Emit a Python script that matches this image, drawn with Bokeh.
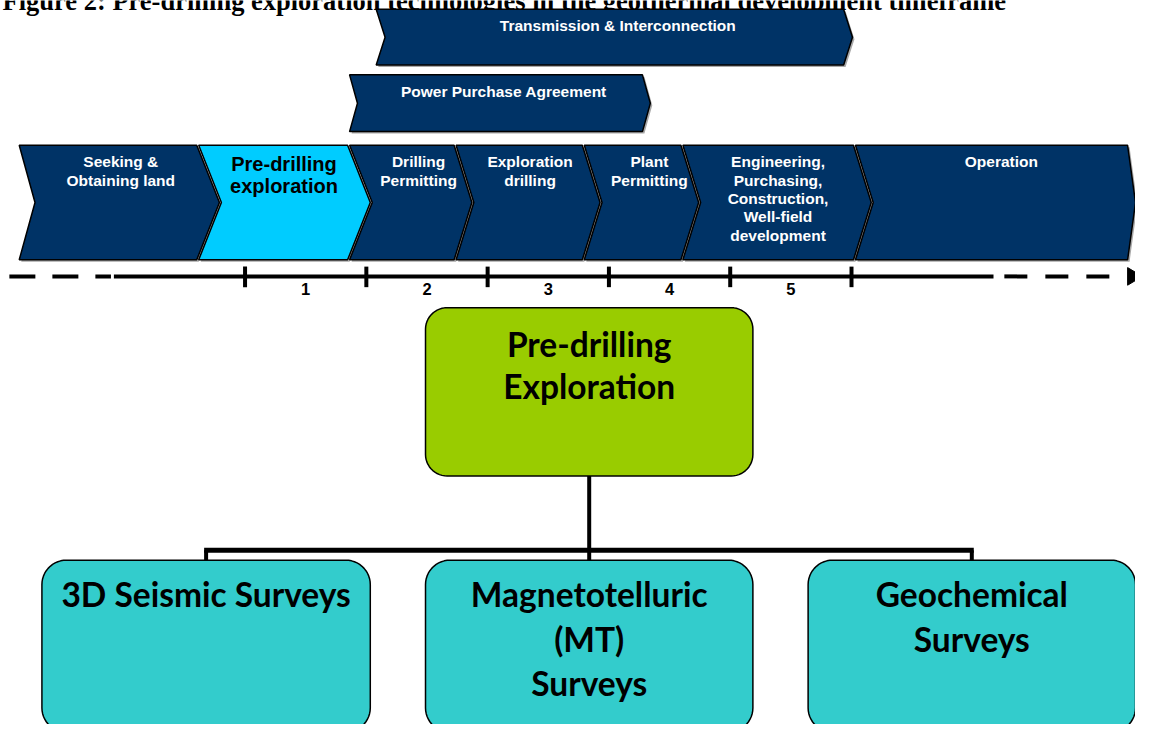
import numpy as np
from bokeh.plotting import figure
from bokeh.models import Range1d
from bokeh.core.properties import value
from bokeh.embed import file_html
from bokeh.resources import INLINE

# ---------------- data (diagram content) ----------------
title_text = "Figure 2: Pre-drilling exploration technologies in the geothermal development timeframe"
stage_labels = ["Seeking &\nObtaining land", "Pre-drilling\nexploration", "Drilling\nPermitting",
                "Exploration\ndrilling", "Plant\nPermitting",
                "Engineering,\nPurchasing,\nConstruction,\nWell-field\ndevelopment", "Operation"]
stage_highlight = [False, True, False, False, False, False, False]
upper_labels = ["Transmission & Interconnection", "Power Purchase Agreement"]
phase_numbers = ["1", "2", "3", "4", "5"]
root_label = "Pre-drilling\nExploration"
tech_labels = ["3D Seismic Surveys", "Magnetotelluric\n(MT)\nSurveys", "Geochemical\nSurveys"]

# ---------------- layout ----------------
W, H = 1151, 740
NAVY, LIGHT, GREEN, CYAN = "#003366", "#00CCFF", "#99CC00", "#33CCCC"
SANS = value("Liberation Sans")
CAL = value("Lato")

stage_edges = [19, 199, 352, 460, 590, 690, 865, 1143]
stage_notch = [16, 23, 23, 18, 18, 18, 18]
stage_tip = [23, 23, 18, 18, 18, 18, 8]
stage_text_dx = [13, 12, 18, 12, 18, 11, 11]
row_top, row_bot = 148, 265

upper_geom = [(381, 855, 9, 66, 9, 9), (354, 651, 76, 134, 8, 8)]  # l, r, top, bottom, notch, tip

tick_x = [248, 371, 494, 617, 740, 863]
line_y = 282

root_box = (431, 763, 314, 486)
tech_boxes = [(42, 375), (431, 763), (819, 1151)]
tech_top, tech_bot = 572, 748
bar_y = 562

p = figure(width=1135, height=724, x_range=Range1d(0, W), y_range=Range1d(H, 0),
           output_backend="svg", toolbar_location=None, min_border=0,
           x_axis_location=None, y_axis_location=None)
p.grid.visible = False
p.outline_line_color = None
p.background_fill_color = "white"


def chevron(l, r, t, b, notch, tip):
    m = (t + b) / 2
    return [l, r, r + tip, r, l, l + notch], [t, t, m, b, b, m]


def rounded(l, r, t, b, rad, n=14):
    xs, ys = [], []
    for cx, cy, a0 in [(r - rad, t + rad, -90), (r - rad, b - rad, 0),
                       (l + rad, b - rad, 90), (l + rad, t + rad, 180)]:
        ang = np.radians(np.linspace(a0, a0 + 90, n))
        xs += list(cx + rad * np.cos(ang))
        ys += list(cy + rad * np.sin(ang))
    return xs, ys


def add_text(x, y_first, label, size, spacing, color, font):
    lines = label.split("\n")
    p.text(x=[x] * len(lines), y=[y_first + i * spacing for i in range(len(lines))], text=lines,
           text_font=font, text_font_size=f"{size}px", text_font_style="bold",
           text_color=color, text_align="center", text_baseline="middle")


# title (cropped at top, as in the reference)
p.text(x=[2], y=[0], text=[title_text], text_font=value("Liberation Serif"),
       text_font_size="26.5px", text_font_style="bold", text_color="black",
       text_align="left", text_baseline="alphabetic")

# ---- chevrons: upper rows ----
ch_xs, ch_ys, ch_fill = [], [], []
for (l, r, t, b, nd, td) in upper_geom:
    xs, ys = chevron(l, r, t, b, nd, td)
    ch_xs.append(xs); ch_ys.append(ys); ch_fill.append(NAVY)

# ---- chevrons: main row ----
for i, lab in enumerate(stage_labels):
    l = stage_edges[i] + (2 if i > 0 else 0)
    r = stage_edges[i + 1]
    xs, ys = chevron(l, r, row_top, row_bot, stage_notch[i], stage_tip[i])
    ch_xs.append(xs); ch_ys.append(ys)
    ch_fill.append(LIGHT if stage_highlight[i] else NAVY)

p.patches(xs=[[x + 2 for x in xs] for xs in ch_xs], ys=[[y + 2 for y in ys] for ys in ch_ys],
          fill_color="#a8a8a8", line_color=None)
p.patches(xs=ch_xs, ys=ch_ys, fill_color=ch_fill, line_color="black", line_width=1.5)

for (l, r, t, b, nd, td), lab in zip(upper_geom, upper_labels):
    add_text((l + r) / 2 + 8, t + 17, lab, 15.5, 18.6, "white", SANS)

for i, lab in enumerate(stage_labels):
    cx = (stage_edges[i] + stage_edges[i + 1]) / 2 + stage_text_dx[i]
    if stage_highlight[i]:
        add_text(cx, row_top + 19, lab, 20, 23, "black", SANS)
    else:
        add_text(cx, row_top + 17, lab, 15.5, 18.7, "white", SANS)

# ---- timeline ----
p.segment(x0=[115], y0=[line_y], x1=[1007], y1=[line_y], line_color="black", line_width=4)
p.segment(x0=[9], y0=[line_y], x1=[112], y1=[line_y], line_color="black", line_width=4,
          line_dash="26 17")
p.segment(x0=[1018], y0=[line_y], x1=[1128], y1=[line_y], line_color="black", line_width=4,
          line_dash="23 18")
p.patch(x=[1143, 1143, 1158], y=[273, 291, 282], fill_color="black", line_color="black")
p.segment(x0=tick_x, y0=[272] * len(tick_x), x1=tick_x, y1=[293] * len(tick_x),
          line_color="black", line_width=4)
mid_x = [(a + b) / 2 for a, b in zip(tick_x[:-1], tick_x[1:])]
p.text(x=mid_x, y=[295] * len(mid_x), text=phase_numbers, text_font=SANS,
       text_font_size="16.5px", text_font_style="bold", text_color="black",
       text_align="center", text_baseline="middle")

# ---- hierarchy ----
rcx = (root_box[0] + root_box[1]) / 2
tech_cx = [(l + r) / 2 for l, r in tech_boxes]
p.segment(x0=[rcx], y0=[root_box[3]], x1=[rcx], y1=[bar_y], line_color="black", line_width=4)
p.segment(x0=[tech_cx[0] - 2], y0=[bar_y], x1=[tech_cx[-1] + 2], y1=[bar_y],
          line_color="black", line_width=5)
p.segment(x0=tech_cx, y0=[bar_y] * 3, x1=tech_cx, y1=[tech_top] * 3,
          line_color="black", line_width=4)

rx, ry = rounded(*root_box, 22)
p.patch(x=rx, y=ry, fill_color=GREEN, line_color="black", line_width=1.5)
add_text(rcx, 351, root_label, 33.5, 43, "black", CAL)

bx, by = [], []
for l, r in tech_boxes:
    xs, ys = rounded(l, r, tech_top, tech_bot, 25)
    bx.append(xs); by.append(ys)
p.patches(xs=bx, ys=by, fill_color=CYAN, line_color="black", line_width=1.5)
for cx, lab in zip(tech_cx, tech_labels):
    add_text(cx, 607, lab, 33.5, 45.5, "black", CAL)

open("out.html", "w").write(file_html(p, INLINE))
